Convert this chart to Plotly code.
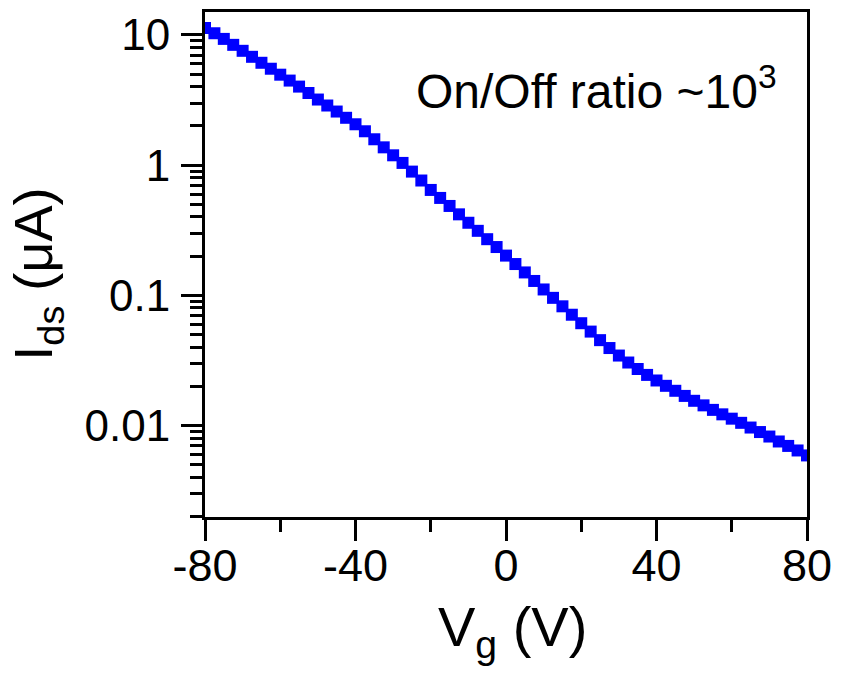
import plotly.graph_objects as go

# Gate voltage sweep (V)
vg = [-80 + 2.5 * i for i in range(65)]

# Drain-source current (uA)
ids = [
    11.3, 10.3, 9.32, 8.39, 7.55, 6.79, 6.11, 5.50, 4.95,
    4.46, 4.01, 3.58, 3.19, 2.87, 2.58, 2.31, 2.06,
    1.82, 1.58, 1.37, 1.19, 1.04, 0.892, 0.762, 0.645,
    0.560, 0.486, 0.419, 0.361, 0.313, 0.270, 0.235, 0.202,
    0.174, 0.150, 0.129, 0.111, 0.0957, 0.0824, 0.0710, 0.0611,
    0.0527, 0.0453, 0.0394, 0.0345, 0.0305, 0.0272, 0.0245, 0.0222,
    0.0202, 0.0185, 0.0169, 0.0155, 0.0143, 0.0132, 0.0122, 0.0113,
    0.0105, 0.00966, 0.00892, 0.00824, 0.00755, 0.00698, 0.00644, 0.00590,
]

x_ticks = [-80, -40, 0, 40, 80]
x_tick_text = ["-80", "-40", "0", "40", "80"]
y_ticks = [0.01, 0.1, 1, 10]
y_tick_text = ["0.01", "0.1", "1", "10"]

FONT = "Arial, Liberation Sans, sans-serif"

fig = go.Figure()
fig.add_trace(go.Scatter(
    x=vg, y=ids, mode="markers",
    marker=dict(symbol="square", size=12, color="#0000ff", line=dict(width=0)),
    showlegend=False,
))

fig.update_layout(
    width=841, height=680,
    margin=dict(l=205, r=33, t=9, b=163),
    paper_bgcolor="white", plot_bgcolor="white",
    font=dict(family=FONT, color="black"),
)

fig.update_xaxes(
    range=[-80, 80], tickvals=x_ticks, ticktext=x_tick_text,
    showline=True, linecolor="black", linewidth=3, mirror=True,
    ticks="outside", ticklen=21, tickwidth=3, tickcolor="black",
    minor=dict(dtick=20, tick0=-80, ticks="outside", ticklen=12, tickwidth=3, tickcolor="black"),
    tickfont=dict(size=45, family=FONT), ticklabelstandoff=-14,
    showgrid=False, zeroline=False,
)

fig.update_yaxes(
    type="log", range=[-2.702, 1.176],
    tickvals=y_ticks, ticktext=y_tick_text,
    showline=True, linecolor="black", linewidth=3, mirror=True,
    ticks="outside", ticklen=21, tickwidth=3, tickcolor="black",
    minor=dict(dtick="D1", ticks="outside", ticklen=12, tickwidth=2.5, tickcolor="black"),
    tickfont=dict(size=44, family=FONT), ticklabelstandoff=2,
    showgrid=False, zeroline=False,
)

# Axis titles
fig.add_annotation(
    text="V<sub>g</sub> (V)", xref="paper", yref="paper",
    x=0.51, y=-0.225, xanchor="center", yanchor="middle",
    showarrow=False, font=dict(size=56, family=FONT),
)
fig.add_annotation(
    text="I<sub>ds</sub> (\u03bcA)", xref="paper", yref="paper",
    x=-0.279, y=0.48, xanchor="center", yanchor="middle", textangle=-90,
    showarrow=False, font=dict(size=54, family=FONT),
)

# On/off ratio label
fig.add_annotation(
    text="On/Off ratio ~10<sup>3</sup>", xref="paper", yref="paper",
    x=0.348, y=0.85, xanchor="left", yanchor="middle",
    showarrow=False, font=dict(size=48, family=FONT),
)

fig.write_html("out.html")
